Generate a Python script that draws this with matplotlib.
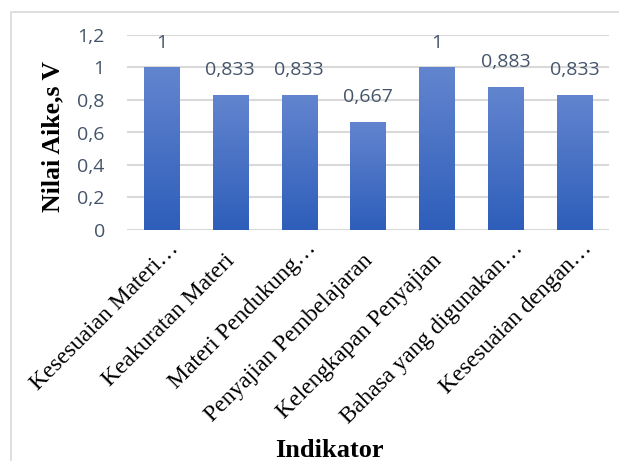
import numpy as np
import matplotlib
matplotlib.use("Agg")
import matplotlib.pyplot as plt
import matplotlib.transforms as mtransforms
from matplotlib.colors import LinearSegmentedColormap
from matplotlib.patches import Rectangle

# Indicator names and Aiken's V values
indikator = ["Kesesuaian Materi…", "Keakuratan Materi", "Materi Pendukung…",
             "Penyajian Pembelajaran", "Kelengkapan Penyajian",
             "Bahasa yang digunakan…", "Kesesuaian dengan…"]
nilai_v = [1, 0.833, 0.833, 0.667, 1, 0.883, 0.833]
label_v = ["1", "0,833", "0,833", "0,667", "1", "0,883", "0,833"]
y_ticks = [0, 0.2, 0.4, 0.6, 0.8, 1.0, 1.2]
y_tick_labels = ["0", "0,2", "0,4", "0,6", "0,8", "1", "1,2"]

W, H = 619, 461
fig = plt.figure(figsize=(W / 100, H / 100), dpi=100)

# light frame round the chart
fig.patches.append(Rectangle((11 / W, -0.01), 1.0, 1 - 12 / H + 0.01,
                             transform=fig.transFigure, fill=False,
                             edgecolor="#D9D9D9", linewidth=1.2))

ax = fig.add_axes([127 / W, 1 - 230 / H, (609 - 127) / W, (230 - 35) / H])

x = np.arange(len(indikator))
bars = ax.bar(x, nilai_v, width=0.51, color="#4472C4", zorder=2)

# vertical blue gradient inside every bar
cmap = LinearSegmentedColormap.from_list("grad", ["#2E5EBA", "#6385CF"])
grad = np.linspace(0, 1, 256).reshape(-1, 1)
for b in bars:
    x0, y0 = b.get_x(), b.get_y()
    w, h = b.get_width(), b.get_height()
    im = ax.imshow(grad, cmap=cmap, origin="lower", aspect="auto",
                   extent=[x0, x0 + w, y0, y0 + h], zorder=3)
    im.set_clip_path(b)
    b.set_alpha(0)

for xi, v, lab in zip(x, nilai_v, label_v):
    ax.annotate(lab, (xi, v), xytext=(0, 18), textcoords="offset points",
                ha="center", va="center", fontsize=14, family="Open Sans",
                color="#44546A")

ax.set_xlim(-0.5, len(indikator) - 0.5)
ax.set_ylim(0, 1.2)
ax.set_yticks(y_ticks)
ax.set_yticklabels(y_tick_labels, family="Open Sans", fontsize=14, color="#44546A")
ax.yaxis.grid(True, color="#D9D9D9", linewidth=1.5, zorder=0)
ax.set_axisbelow(True)
ax.tick_params(axis="y", length=0, pad=16)
ax.tick_params(axis="x", length=0, pad=20)
for s in ax.spines.values():
    s.set_visible(False)

ax.set_xticks(x)
ax.set_xticklabels(indikator, rotation=45, ha="right", va="center",
                   rotation_mode="anchor", family="Liberation Serif",
                   fontsize=17, color="black")
# truncated names hang their ellipsis past the tick
for t in ax.get_xticklabels():
    dx = 9 / 72 if t.get_text().endswith("…") else 0
    t.set_transform(t.get_transform() +
                    mtransforms.ScaledTranslation(dx + 1 / 72, dx, fig.dpi_scale_trans))

ax.set_ylabel("Nilai Aike,s V", family="Liberation Serif", fontsize=18.5,
              fontweight="bold")
ax.yaxis.set_label_coords(-0.13, 0.477)
fig.text(329 / W, 1 - 450 / H, "Indikator", family="Liberation Serif",
         fontsize=19, fontweight="bold", ha="center", va="center")

fig.savefig("out.png", dpi=100)
